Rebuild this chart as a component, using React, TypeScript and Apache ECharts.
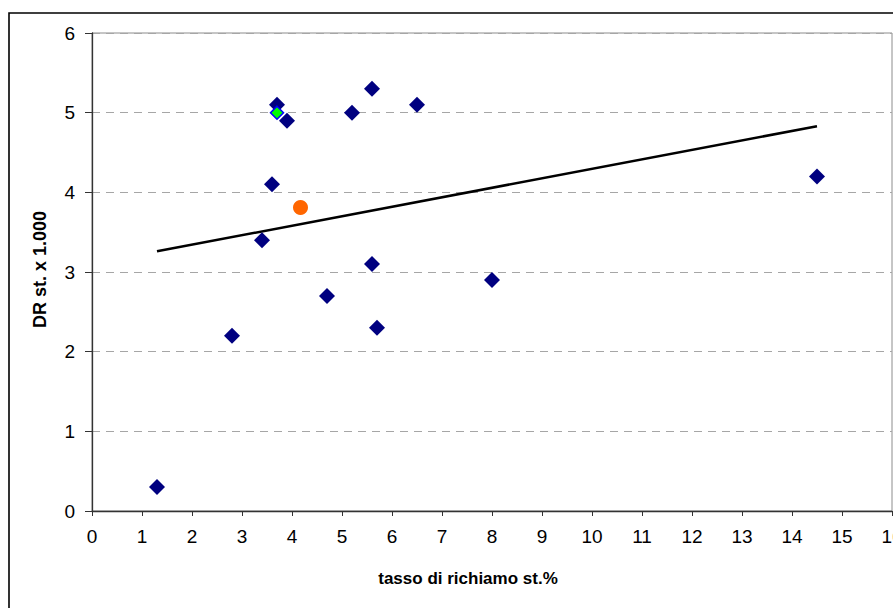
import React, { useEffect, useRef } from "react";
import * as echarts from "echarts";

// Blue diamond points (tasso di richiamo st.%, DR st. x 1.000)
const blueX = [1.3, 2.8, 3.4, 3.6, 3.7, 3.9, 5.2, 5.6, 6.5, 4.7, 5.6, 5.7, 8.0, 14.5];
const blueY = [0.3, 2.2, 3.4, 4.1, 5.1, 4.9, 5.0, 5.3, 5.1, 2.7, 3.1, 2.3, 2.9, 4.2];
// highlighted points
const greenPoint = [3.7, 5.0];
const orangePoint = [4.17, 3.81];
// linear trend line endpoints
const trendX = [1.3, 14.5];
const trendY = [3.26, 4.83];
// axes
const xMin = 0, xMax = 16, xStep = 1;
const yMin = 0, yMax = 6, yStep = 1;
const xTitle = "tasso di richiamo st.%";
const yTitle = "DR st. x 1.000";

const FONT = 'Arial, "Liberation Sans", sans-serif';

export default function App() {
  const ref = useRef<HTMLDivElement>(null);
  useEffect(() => {
    if (!ref.current) return;
    const chart = echarts.init(ref.current, null, { renderer: "svg" });
    const blueData = blueX.map((x, i) => [x, blueY[i]]);
    const trendData = trendX.map((x, i) => [x, trendY[i]]);
    chart.setOption({
      animation: false,
      backgroundColor: "#ffffff",
      grid: {
        left: 92,
        top: 33,
        right: 1,
        bottom: 97,
        show: true,
        borderColor: "#8c8c8c",
        borderWidth: 1,
        backgroundColor: "transparent",
        containLabel: false,
        outerBoundsMode: "none",
      },
      xAxis: {
        type: "value",
        min: xMin,
        max: xMax,
        interval: xStep,
        axisLine: { show: true, lineStyle: { color: "#333", width: 1.3 } },
        axisTick: { show: true, length: 5, lineStyle: { color: "#333" } },
        axisLabel: { color: "#000", fontSize: 19, fontFamily: FONT, margin: 16, showMaxLabel: true },
        splitLine: { show: false },
      },
      yAxis: {
        type: "value",
        min: yMin,
        max: yMax,
        interval: yStep,
        axisLine: { show: true, lineStyle: { color: "#333", width: 1.3 } },
        axisTick: { show: true, length: 7, lineStyle: { color: "#333" } },
        axisLabel: { color: "#000", fontSize: 19, fontFamily: FONT, margin: 17 },
        splitLine: { show: true, lineStyle: { color: "#a6a6a6", type: [8, 6], width: 1 } },
      },
      graphic: [
        {
          type: "rect",
          z: -10,
          shape: { x: 9, y: 13, width: 1000, height: 1000 },
          style: { fill: "none", stroke: "#000", lineWidth: 1.6 },
        },
        {
          type: "text",
          x: 468,
          y: 578,
          style: {
            text: xTitle,
            font: `bold 17px ${FONT}`,
            fill: "#000",
            textAlign: "center",
            textVerticalAlign: "middle",
          },
        },
        {
          type: "text",
          x: 40,
          y: 328,
          rotation: Math.PI / 2,
          style: {
            text: yTitle,
            font: `bold 18px ${FONT}`,
            fill: "#000",
            textAlign: "left",
            textVerticalAlign: "middle",
          },
        },
        {
          type: "rect",
          z: 50,
          shape: { x: 26, y: 180, width: 30, height: 30 },
          style: { fill: "#ffffff" },
        },
      ],
      series: [
        {
          type: "line",
          data: trendData,
          showSymbol: false,
          symbol: "none",
          lineStyle: { color: "#000", width: 2.5 },
          z: 2,
        },
        {
          type: "scatter",
          data: blueData,
          symbol: "diamond",
          symbolSize: 16,
          itemStyle: { color: "#000080", opacity: 1 },
          z: 3,
        },
        {
          type: "scatter",
          data: [greenPoint],
          symbol: "diamond",
          symbolSize: 13,
          itemStyle: { color: "#00ff00", borderColor: "#0000ff", borderWidth: 1.5, opacity: 1 },
          z: 4,
        },
        {
          type: "scatter",
          data: [orangePoint],
          symbol: "circle",
          symbolSize: 15,
          itemStyle: { color: "#ff6600", opacity: 1 },
          z: 5,
        },
      ],
    });
    return () => chart.dispose();
  }, []);
  return (
    <div
      ref={ref}
      style={{ position: "fixed", left: 0, top: 0, width: 893, height: 608, background: "#fff" }}
    />
  );
}
